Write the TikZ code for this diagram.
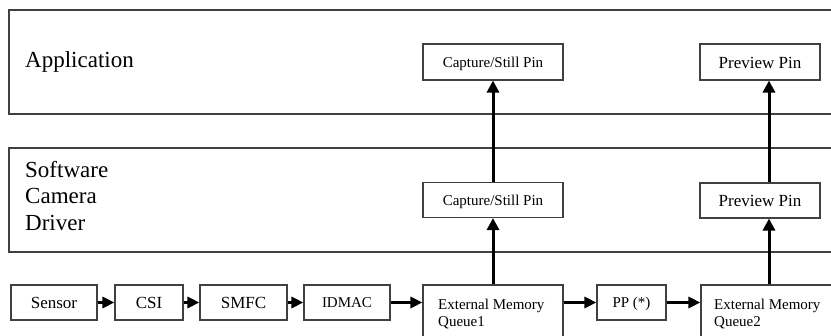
\documentclass[tikz,border=0pt]{standalone}
\usepackage{fontspec}
\setmainfont{Liberation Serif}
\usetikzlibrary{arrows.meta}
\definecolor{boxline}{gray}{0.25}
\tikzset{
  layer/.style={draw=boxline, line width=1.2pt},
  blk/.style={draw=boxline, line width=1.1pt, fill=white, inner sep=0pt, minimum height=35pt, text height=12.5pt, text depth=0pt, font=\fontsize{17}{19}\selectfont},
  smallfont/.style={font=\fontsize{15}{17}\selectfont, text height=11pt},
  qfont/.style={font=\fontsize{15}{17}\selectfont},
  lbl/.style={inner sep=0pt, anchor=north west, align=left},
  harrow/.style={line width=3pt, -{Triangle[length=12pt,width=11pt]}},
  varrow/.style={line width=3pt, -{Triangle[length=12pt,width=12pt]}},
}
\begin{document}
\begin{tikzpicture}[x=1pt,y=-1pt]
\useasboundingbox (0,0) rectangle (831,336);
\clip (0,0) rectangle (831,336);
% layers
\draw[layer] (9,10) rectangle (845,114);
\draw[layer] (9,148) rectangle (845,252);
\node[lbl, font=\fontsize{23}{26.5}\selectfont] (applbl) at (25,51) {Application};
\node[lbl, font=\fontsize{23}{26.5}\selectfont] (drvlbl) at (25,161) {Software\\Camera\\Driver};
% application pins
\node[blk, smallfont, minimum width=140pt, minimum height=36pt] (capA) at (493,62) {Capture/Still Pin};
\node[blk, minimum width=120pt, minimum height=36pt] (prevA) at (760,62) {Preview Pin};
% driver pins
\node[blk, smallfont, minimum width=140pt] (capD) at (493,200) {Capture/Still Pin};
\node[blk, minimum width=120pt] (prevD) at (760,200.5) {Preview Pin};
% pipeline
\node[blk, minimum width=86pt] (sensor) at (54,302.5) {Sensor};
\node[blk, minimum width=68pt] (csi) at (149,302.5) {CSI};
\node[blk, minimum width=87pt] (smfc) at (243.5,302.5) {SMFC};
\node[blk, smallfont, minimum width=86pt] (idmac) at (347,302.5) {IDMAC};
\node[blk, minimum width=140pt, minimum height=65pt] (q1) at (493,317.5) {};
\node[lbl, qfont] (q1lbl) at (438,298.5) {External Memory\\Queue1};
\node[blk, smallfont, minimum width=69pt] (pp) at (631.5,302.5) {PP (*)};
\node[blk, minimum width=159pt, minimum height=65pt] (q2) at (780.5,317.5) {};
\node[lbl, qfont] (q2lbl) at (714,298.5) {External Memory\\Queue2};
\coordinate (pvx) at (769,0);
% horizontal arrows
\draw[harrow] (sensor.east) -- (csi.west);
\draw[harrow] (csi.east) -- (smfc.west);
\draw[harrow] (smfc.east) -- (idmac.west);
\draw[harrow] (idmac.east) -- (idmac.east -| q1.west);
\draw[harrow] (pp.east -| q1.east) -- (pp.west);
\draw[harrow] (pp.east) -- (pp.east -| q2.west);
% vertical arrows
\draw[varrow] (q1.north) -- (capD.south);
\draw[varrow] (capD.north) -- (capA.south);
\draw[varrow] (q2.north -| pvx) -- (prevD.south -| pvx);
\draw[varrow] (prevD.north -| pvx) -- (prevA.south -| pvx);
\end{tikzpicture}
\end{document}
